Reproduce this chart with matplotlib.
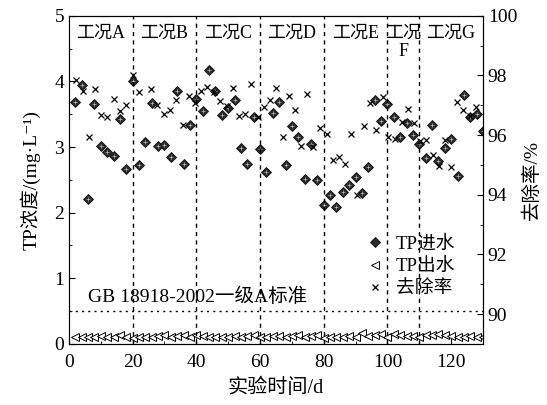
import numpy as np
import matplotlib
matplotlib.use('Agg')
import matplotlib.pyplot as plt
from matplotlib.ticker import MultipleLocator

plt.rcParams['font.family'] = ['Liberation Serif', 'Noto Sans CJK SC', 'DejaVu Serif']
plt.rcParams['font.size'] = 14

# TP influent / effluent (mg/L), sampled every 2 d
days = list(range(2, 131, 2))
tp_in = [3.69, 3.94, 2.21, 3.65, 3.01, 2.93, 2.87, 3.42, 2.67, 4.00,
         2.72, 3.07, 3.67, 3.01, 3.03, 2.85, 3.86, 2.74, 3.33, 3.73,
         3.55, 4.17, 3.85, 3.49, 3.60, 3.71, 2.99, 2.74, 3.45, 2.97,
         2.62, 3.52, 3.69, 2.72, 3.32, 3.15, 2.52, 3.04, 2.50, 2.12,
         2.27, 2.08, 2.32, 2.42, 2.54, 2.30, 2.69, 3.72, 3.39, 3.66,
         3.46, 3.15, 3.36, 3.19, 3.04, 2.84, 3.34, 2.78, 2.98, 3.12,
         2.56, 3.80, 3.46, 3.51, 3.24]
tp_out = [0.10, 0.10, 0.11, 0.10, 0.12, 0.11, 0.11, 0.13, 0.10, 0.09,
          0.10, 0.11, 0.11, 0.12, 0.13, 0.11, 0.12, 0.13, 0.11, 0.13,
          0.12, 0.11, 0.11, 0.10, 0.11, 0.12, 0.11, 0.12, 0.13, 0.10,
          0.11, 0.12, 0.12, 0.11, 0.12, 0.13, 0.11, 0.12, 0.13, 0.09,
          0.10, 0.11, 0.11, 0.12, 0.11, 0.17, 0.12, 0.13, 0.15, 0.10,
          0.15, 0.13, 0.12, 0.12, 0.11, 0.13, 0.14, 0.15, 0.13, 0.12,
          0.11, 0.11, 0.12, 0.11, 0.10]

# removal rate (%)
rm_days = [2.1, 4.3, 6.3, 8.3, 10.1, 12.1, 14.1, 16.0, 18.0, 20.0,
           22.0, 25.7, 27.6, 29.7, 31.7, 33.7, 35.7, 37.7, 39.6, 41.6,
           43.5, 45.5, 47.5, 49.5, 51.4, 53.4, 55.4, 57.3, 59.3, 61.1,
           63.1, 65.1, 67.1, 69.1, 71.1, 72.9, 74.9, 76.7, 78.8, 80.9,
           82.8, 84.8, 86.7, 88.5, 90.5, 92.6, 94.6, 96.4, 98.5, 100.3,
           102.4, 104.5, 106.3, 108.3, 110.2, 112.2, 114.2, 116.1, 118.1, 119.9,
           121.9, 123.8, 125.8, 127.8]
removal = [97.85, 97.48, 95.93, 97.54, 96.68, 96.60, 97.21, 96.80, 97.01, 98.03,
           97.44, 97.55, 97.01, 96.72, 96.85, 97.16, 96.35, 97.32, 97.06, 97.49,
           97.62, 97.43, 97.15, 96.96, 97.58, 96.65, 96.72, 97.71, 96.62, 96.93,
           97.17, 97.57, 95.95, 97.31, 96.85, 95.65, 97.37, 95.61, 96.23, 96.03,
           95.18, 95.26, 95.03, 96.05, 94.00, 96.29, 97.07, 96.17, 97.27, 95.95,
           95.87, 96.45, 96.88, 96.40, 95.81, 95.83, 95.34, 94.97, 95.84, 94.93,
           97.11, 96.85, 96.64, 96.93]

stage_bounds = [20, 40, 60, 80, 100, 110]
stage_names = ['工况A', '工况B', '工况C', '工况D', '工况E', '工况\nF', '工况G']
stage_x = [10, 30, 50, 70, 90, 105, 120]
standard = 0.5

fig = plt.figure(figsize=(5.47, 4.05), dpi=100)
ax = fig.add_axes([0.126, 0.151, 0.757, 0.81])
ax2 = ax.twinx()

l1, = ax.plot(days, tp_in, linestyle='none', marker='D', ms=5,
              mfc='#2a2a2a', mec='#111111', mew=0.6, label='TP进水')
ax.plot(days, tp_in, linestyle='none', marker='+', ms=3.5, mec='#bbbbbb', mew=0.5)
l2, = ax.plot(days, tp_out, linestyle='none', marker='<', ms=5.5,
              mfc='white', mec='black', mew=0.7, label='TP出水')
l3, = ax2.plot(rm_days, removal, linestyle='none', marker='x', ms=4.5,
               mec='black', mew=0.9, label='去除率')

for b in stage_bounds:
    ax.axvline(b, color='black', ls=(0, (3, 3)), lw=1)
ax.axhline(standard, color='black', ls=(0, (1.5, 3)), lw=1)

for x, name in zip(stage_x, stage_names):
    ax.text(x, 4.87, name, ha='center', va='top', fontsize=13,
            linespacing=1.1)
ax.text(6, 0.72, 'GB 18918-2002一级A标准', ha='left', va='center', fontsize=14)

ax.set_xlim(0, 130)
ax.set_ylim(0, 5)
ax2.set_ylim(89, 100)
ax.xaxis.set_major_locator(MultipleLocator(20))
ax.xaxis.set_minor_locator(MultipleLocator(10))
ax.yaxis.set_major_locator(MultipleLocator(1))
ax.yaxis.set_minor_locator(MultipleLocator(0.5))
ax2.yaxis.set_major_locator(MultipleLocator(2))
ax2.yaxis.set_minor_locator(MultipleLocator(1))
ax.tick_params(which='both', direction='in', top=False, right=False)
ax.tick_params(which='major', length=4, labelsize=14)
ax.tick_params(which='minor', length=2.5)
ax.tick_params(axis='x', pad=7)
ax2.tick_params(which='both', direction='in')
ax2.tick_params(which='major', length=4, labelsize=14)
ax2.tick_params(which='minor', length=2.5)

ax.set_xlabel('实验时间/d', fontsize=14.5, labelpad=6)
ax.set_ylabel('TP浓度/(mg·L⁻¹)', fontsize=14, labelpad=10)
ax2.set_ylabel('去除率/%', fontsize=14)

ax2.legend(handles=[l1, l2, l3], loc='lower right', bbox_to_anchor=(0.965, 0.10),
           frameon=False, fontsize=13.5, handlelength=1, handletextpad=0.6,
           labelspacing=0.3, borderpad=0.2)

fig.savefig('out.png', dpi=100)
